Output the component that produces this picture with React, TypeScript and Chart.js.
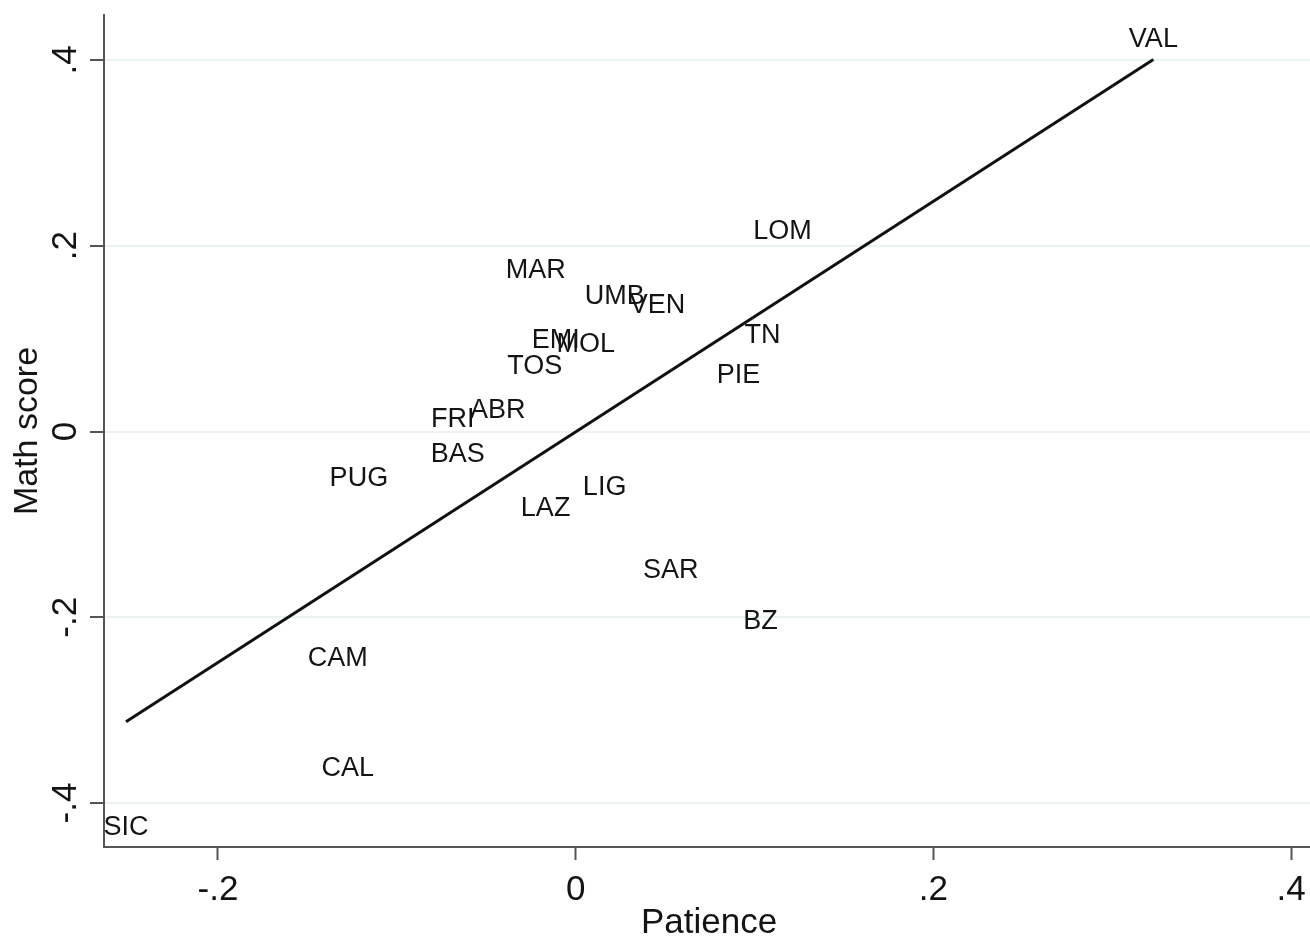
import React, { useEffect, useRef } from "react";
import { Chart, registerables } from "chart.js";

Chart.register(...registerables);

const regions = ["VAL", "LOM", "MAR", "UMB", "VEN", "TN", "EMI", "MOL", "TOS", "PIE", "FRI", "ABR", "BAS", "PUG", "LIG", "LAZ", "SAR", "BZ", "CAM", "CAL", "SIC"];
const patience = [0.323, 0.1156, -0.0223, 0.0218, 0.0458, 0.1045, -0.0112, 0.0056, -0.0229, 0.0911, -0.0687, -0.0436, -0.0659, -0.1212, 0.0162, -0.0168, 0.0531, 0.1034, -0.133, -0.1274, -0.2514];
const mathScore = [0.4237, 0.2172, 0.1753, 0.1473, 0.1376, 0.1054, 0.1, 0.0957, 0.072, 0.0624, 0.014, 0.0237, -0.0237, -0.0495, -0.0591, -0.0817, -0.1484, -0.2032, -0.243, -0.3613, -0.4247];

const fitIntercept = -0.0004;
const fitSlope = 1.241;

const xTickValues = [-0.2, 0, 0.2, 0.4];
const xTickLabels = ["-.2", "0", ".2", ".4"];
const yTickValues = [-0.4, -0.2, 0, 0.2, 0.4];
const yTickLabels = ["-.4", "-.2", "0", ".2", ".4"];

const FONT = "'Liberation Sans', Arial, sans-serif";
const TEXT = "#141414";
const AXIS = "#555555";
const GRID = "#eaf2f3";

const labelPlugin = {
  id: "pointLabels",
  afterDatasetsDraw(chart: any) {
    const ctx = chart.ctx;
    const xs = chart.scales.x;
    const ys = chart.scales.y;
    ctx.save();
    ctx.font = `27px ${FONT}`;
    ctx.fillStyle = TEXT;
    ctx.textAlign = "center";
    ctx.textBaseline = "middle";
    regions.forEach((r, i) => {
      ctx.fillText(r, xs.getPixelForValue(patience[i]), ys.getPixelForValue(mathScore[i]) + 1.5);
    });
    ctx.restore();
  },
  afterDraw(chart: any) {
    const ctx = chart.ctx;
    const ys = chart.scales.y;
    ctx.save();
    ctx.font = `35px ${FONT}`;
    ctx.fillStyle = TEXT;
    ctx.textAlign = "center";
    ctx.textBaseline = "middle";
    ys.ticks.forEach((t: any) => {
      const py = ys.getPixelForValue(t.value);
      const idx = yTickValues.findIndex((v) => Math.abs(v - t.value) < 1e-9);
      ctx.save();
      ctx.translate(66, py);
      ctx.rotate(-Math.PI / 2);
      ctx.fillText(idx >= 0 ? yTickLabels[idx] : "", 0, 0);
      ctx.restore();
    });
    ctx.restore();
  },
};

export default function App() {
  const ref = useRef<HTMLCanvasElement | null>(null);

  useEffect(() => {
    if (!ref.current) return;
    const minX = Math.min(...patience);
    const maxX = Math.max(...patience);
    const chart = new Chart(ref.current, {
      type: "scatter",
      data: {
        datasets: [
          {
            label: "Math score",
            data: patience.map((p, i) => ({ x: p, y: mathScore[i] })),
            pointRadius: 0,
            pointHoverRadius: 0,
            showLine: false,
          },
          {
            label: "Fitted values",
            data: [
              { x: minX, y: fitIntercept + fitSlope * minX },
              { x: maxX, y: fitIntercept + fitSlope * maxX },
            ],
            showLine: true,
            borderColor: "#111111",
            borderWidth: 3,
            pointRadius: 0,
            fill: false,
          },
        ],
      },
      options: {
        responsive: false,
        animation: false,
        events: [],
        layout: { padding: { top: 14, right: 3, left: 0, bottom: 0 } },
        plugins: { legend: { display: false }, tooltip: { enabled: false } },
        scales: {
          x: {
            type: "linear",
            min: -0.2637,
            max: 0.4128,
            afterBuildTicks: (s: any) => {
              s.ticks = xTickValues.map((v) => ({ value: v }));
            },
            afterFit: (s: any) => {
              s.height = 94;
            },
            ticks: {
              autoSkip: false,
              maxRotation: 0,
              padding: 9,
              color: TEXT,
              font: { family: FONT, size: 35 },
              callback: (v: any) => {
                const i = xTickValues.findIndex((t) => Math.abs(t - v) < 1e-9);
                return i >= 0 ? xTickLabels[i] : "";
              },
            },
            grid: {
              drawOnChartArea: false,
              drawTicks: true,
              tickLength: 13,
              tickWidth: 2,
              tickColor: AXIS,
            },
            border: { display: true, color: AXIS, width: 2 },
            title: {
              display: true,
              text: "Patience",
              color: TEXT,
              font: { family: FONT, size: 35, lineHeight: 1.0 },
              padding: { top: 0, bottom: 0 },
            },
          },
          y: {
            type: "linear",
            min: -0.4473,
            max: 0.4484,
            afterBuildTicks: (s: any) => {
              s.ticks = yTickValues.map((v) => ({ value: v }));
            },
            afterFit: (s: any) => {
              s.width = 104;
            },
            ticks: {
              autoSkip: false,
              color: "rgba(0,0,0,0)",
              font: { family: FONT, size: 20 },
              callback: () => "",
            },
            grid: {
              drawOnChartArea: true,
              color: GRID,
              lineWidth: 2,
              drawTicks: true,
              tickLength: 14,
              tickWidth: 2,
              tickColor: AXIS,
            },
            border: { display: true, color: AXIS, width: 2 },
            title: {
              display: true,
              text: "Math score",
              color: TEXT,
              font: { family: FONT, size: 34, lineHeight: 1.2 },
              padding: { top: 7, bottom: 0 },
            },
          },
        },
      },
      plugins: [labelPlugin],
    });
    return () => chart.destroy();
  }, []);

  return (
    <div style={{ position: "fixed", left: 0, top: 0, width: 1310, height: 941, overflow: "hidden", background: "#ffffff" }}>
      <canvas ref={ref} width={1317} height={941} style={{ display: "block" }} />
    </div>
  );
}
